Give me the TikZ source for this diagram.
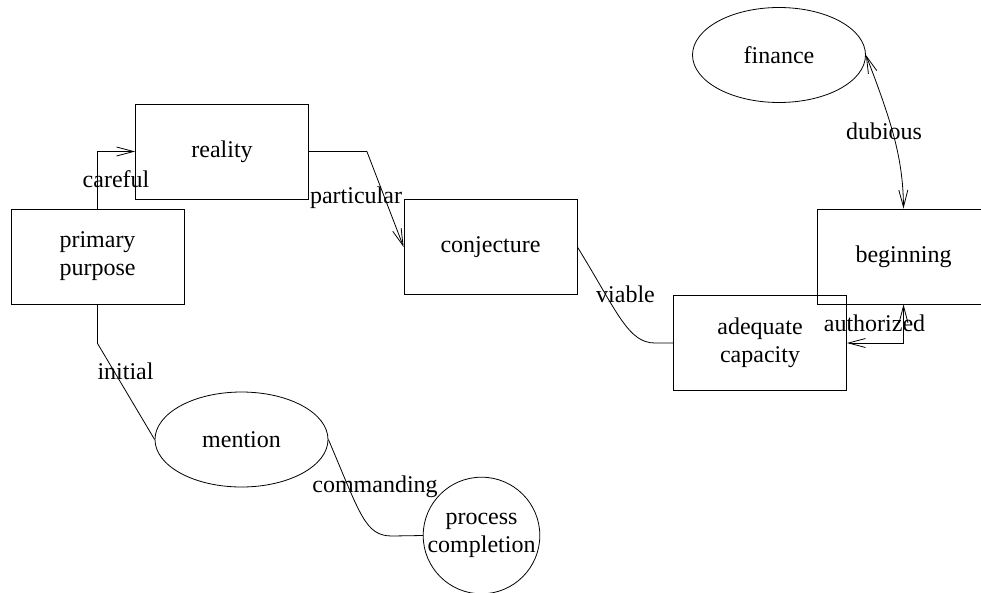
\documentclass[tikz,border=0pt]{standalone}
\usepackage{fontspec}
\setmainfont{Liberation Serif}
\usepackage{tikz}
\usetikzlibrary{shapes.geometric, arrows.meta, positioning, calc}

\tikzset{
  box/.style={draw, rectangle, minimum width=173pt, minimum height=95pt, align=center},
  oval/.style={draw, ellipse, minimum width=173pt, minimum height=95pt, align=center},
  disc/.style={draw, circle, minimum size=115pt, inner sep=0pt, align=center},
  lbl/.style={inner sep=0pt},
  link/.style={line width=0.8pt},
  tip/.tip={Straight Barb[length=17pt, width=9pt]}
}

\begin{document}
\begin{tikzpicture}[x=1pt, y=-1pt, font=\fontsize{24}{28}\selectfont, line width=0.8pt]
        \useasboundingbox (0,0) rectangle (981,592);

        \node[box] (pp) at (97.5, 256.5) {primary\\purpose};
        \node[box] (re) at (222, 151.5) {reality};
        \node[box] (cj) at (490.5, 247) {conjecture};
        \node[box] (ac) at (760, 343) {adequate\\capacity};
        \node[box] (bg) at (903.5, 256.5) {beginning};
        \node[oval] (fi) at (779, 55) {finance};
        \node[oval] (mn) at (241.5, 439.5) {mention};
        \node[disc] (pc) at (481.5, 535.5) {process\\completion};

        \coordinate (v1) at (655, 343);
        \coordinate (c1) at (392, 536);

        \draw[link, -tip] (pp.north) |- (re.west);
        \node[lbl] at (116, 179) {careful};

        \draw[link, -tip] (re.east) -- ++(58,0) -- (cj.west);
        \node[lbl] at (356, 198) {particular};

        \draw[link] (cj.east) .. controls +(40,65) and (628,343) .. (v1) -- (ac.west);
        \node[lbl] at (625.5, 294) {viable};

        \draw[link, tip-tip] (bg.south) |- (ac.east);
        \node[lbl] at (874.5, 323) {authorized};

        \draw[link, tip-tip] (fi.east) .. controls (893,125) and (903,160) .. (bg.north);
        \node[lbl] at (884, 131) {dubious};

        \draw[link] (pp.south) -- ++(0,39) -- (mn.west);
        \node[lbl] at (125.5, 371) {initial};

        \draw[link] (mn.east) .. controls +(32,75) and (365,536) .. (c1) -- (pc.west);
        \node[lbl] at (375, 487) {commanding};
\end{tikzpicture}
\end{document}
